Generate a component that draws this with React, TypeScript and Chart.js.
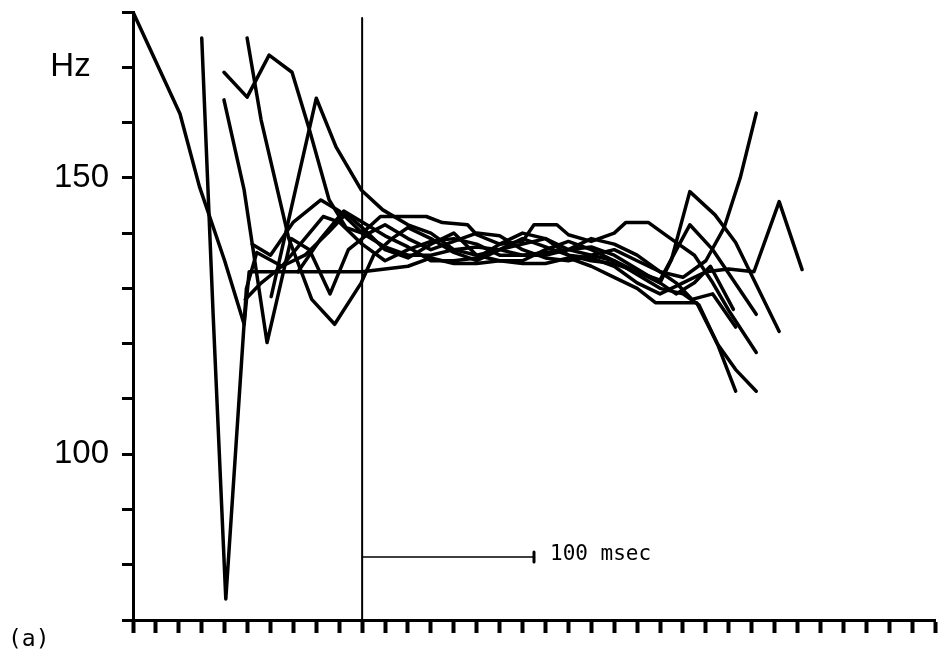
import React, { useEffect, useRef } from "react";
import { Chart, registerables } from "chart.js";

Chart.register(...registerables);

// x: time in tick units (0..35), y: Hz
const xTicks = { min: 0, max: 35, step: 1 };
const yTicks = { min: 70, max: 180, step: 10 };
const yLabels: Record<number, string> = { 170: "Hz  ", 150: "150", 100: "100" };

const curve1: [number, number][] = [[0,180],[2.05,161.6],[2.9,148.4],[4,135],[4.85,123.5],[5.07,133],[10,133],[11,133.5],[12,134],[13,135.5],[14,134.5],[15,134.5],[16,135],[17,134.5],[18,134.5],[19,135.5],[20,134],[21,132],[22,130],[22.8,127.4],[23.8,127.4],[24.6,127.4],[25.5,120],[26.3,111.4]];
const curve2: [number, number][] = [[3,175.3],[3.5,125],[4.05,73.8],[4.95,130],[5.4,136.5],[6.5,134],[7.5,136],[8.5,140],[9.3,143.5],[10,141],[11,137],[12,135.5],[13,138],[14,140],[15,136],[16,135],[17,135],[18,137],[19,138.5],[20,137],[21,135],[22,132.5],[23,130],[24,129],[24.7,127],[25.5,120],[26.3,115.3],[27.2,111.4]];
const curve3: [number, number][] = [[3.97,169.1],[4.98,164.6],[5.94,172.2],[6.94,169.1],[7.7,158.7],[8.56,146],[9.3,141],[10,140],[10.8,143],[11.5,143],[12.8,143],[13.5,141.9],[14.6,141.5],[15,139.7],[16,138],[17,138.5],[17.5,141.5],[18.5,141.5],[19,139.7],[20,138.5],[21,140],[21.5,141.9],[22.5,141.9],[23.3,139.5],[24.5,136],[25.3,131],[26,126],[27.2,118.4]];
const curve4: [number, number][] = [[4.98,175.3],[5.59,160.5],[6.8,139],[7.8,128],[8.8,123.5],[9.96,131],[10.5,136],[11.3,139],[12,141],[13,139],[14,136.5],[15,135],[16,137],[17,139],[18,137.5],[19,136],[20,135],[21,134.5],[22,133],[23,131],[23.7,129],[24.5,131],[25.2,134],[26.2,126.2]];
const curve5: [number, number][] = [[3.97,164.1],[4.85,147.8],[5.85,120.2],[6.9,139],[7.7,137],[8.6,129],[9.4,137],[10.3,140],[11,141.5],[12,139],[13,137],[14,138.5],[15,140],[16,139.5],[17,137],[18,135.5],[19,135],[20,136],[21,137],[22,135],[23,133],[23.7,131],[24.4,128],[25.3,129],[26.3,123]];
const curve6: [number, number][] = [[6.03,128.5],[8,164.4],[8.86,155.6],[9.96,147.8],[10.9,144.2],[12,141.5],[13,140],[14,137],[15,136],[16,137],[17,138],[18,139],[19,137],[20,136],[21,135],[22,133],[23,131.5],[24.3,141.5],[25.3,137],[27.2,125.3]];
const curve7: [number, number][] = [[5.2,138],[6,136],[7,142],[8.2,146],[9,144],[10,140],[11,137.5],[12,136],[13,136],[14,137],[15,137.5],[16,137],[17,136],[18,136],[19,137],[20,139],[21,138],[22,136],[23,133],[24,132],[25,135],[25.8,141],[26.5,150],[27.2,161.7]];
const curve8: [number, number][] = [[4.9,128],[5.6,131],[6.5,134],[7.5,139],[8.3,143],[9,142],[10,138],[11,135],[12,137],[13,138.5],[14,139],[15,138],[16,136],[17,136],[18,136.5],[19,137],[20,137.5],[21,136],[22,133.5],[23,131],[23.5,135.2],[24.3,147.5],[25.4,143.3],[26.3,138.3],[28.2,122.2]];
const curve9: [number, number][] = [[7.2,133],[8.2,139],[9.2,144],[10,142],[11,139.5],[12,137.5],[13,135],[14,135],[15,135.5],[16,138],[17,140],[18,139],[19,136],[20,135.5],[21,134],[22,131],[23,129],[24,131],[25,133],[26,133.5],[27.1,133],[28.2,145.7],[29.2,133.4]];

const markerLine: [number, number][] = [[10,178.9],[10,70]];
const scaleBar: [number, number][] = [[10,81.4],[17.5,81.4]];
const scaleBarEnd: [number, number][] = [[17.5,80.5],[17.5,82.3]];
const scaleBarLabel = "100 msec";
const panelLabel = "(a)";

const curves = [curve1, curve2, curve3, curve4, curve5, curve6, curve7, curve8, curve9];

const toPts = (a: [number, number][]) => a.map(([x, y]) => ({ x, y }));

export default function App() {
  const ref = useRef<HTMLCanvasElement>(null);
  useEffect(() => {
    if (!ref.current) return;
    const lineDs = (d: [number, number][], w: number) => ({
      data: toPts(d),
      borderColor: "#000",
      backgroundColor: "#000",
      borderWidth: w,
      pointRadius: 0,
      fill: false,
      tension: 0,
      borderJoinStyle: "round" as const,
      borderCapStyle: "round" as const,
    });
    const textPlugin = {
      id: "texts",
      afterDraw(chart: any) {
        const ctx = chart.ctx;
        const xs = chart.scales.x;
        const ys = chart.scales.y;
        ctx.save();
        ctx.fillStyle = "#000";
        ctx.font = '21px "DejaVu Sans Mono"';
        ctx.textBaseline = "middle";
        ctx.textAlign = "left";
        ctx.fillText(scaleBarLabel, xs.getPixelForValue(scaleBar[1][0]) + 16, ys.getPixelForValue(scaleBar[1][1]) - 2);
        ctx.font = '23px "DejaVu Sans Mono"';
        ctx.fillText(panelLabel, 8, 640);
        ctx.restore();
      },
    };
    const chart = new Chart(ref.current, {
      type: "line",
      data: {
        datasets: [
          ...curves.map((c) => lineDs(c, 3.5)),
          lineDs(markerLine, 2),
          lineDs(scaleBar, 1.5),
          lineDs(scaleBarEnd, 3),
        ],
      },
      options: {
        responsive: false,
        animation: false,
        devicePixelRatio: 1,
        layout: { padding: { top: 12, right: 6, left: 0, bottom: 0 } },
        plugins: { legend: { display: false }, tooltip: { enabled: false } },
        scales: {
          x: {
            type: "linear",
            min: xTicks.min,
            max: xTicks.max,
            ticks: { stepSize: xTicks.step, callback: () => "", font: { size: 1 } },
            grid: { drawOnChartArea: false, tickLength: 13, tickWidth: 4, tickColor: "#000", color: "#000" },
            border: { display: true, width: 3, color: "#000" },
            afterFit: (s: any) => {
              s.height = 38;
              s.paddingLeft = 0;
              s.paddingRight = 0;
            },
          },
          y: {
            type: "linear",
            min: yTicks.min,
            max: yTicks.max,
            ticks: {
              stepSize: yTicks.step,
              callback: (v: any) => yLabels[Number(v)] ?? "",
              color: "#000",
              padding: 13,
              font: { family: '"Liberation Sans", Arial, sans-serif', size: 33 },
            },
            grid: { drawOnChartArea: false, tickLength: 11, tickWidth: 3, tickColor: "#000", color: "#000" },
            border: { display: true, width: 3, color: "#000" },
            afterFit: (s: any) => {
              s.width = 133;
              s.paddingTop = 0;
              s.paddingBottom = 0;
            },
          },
        },
      },
      plugins: [textPlugin],
    });
    return () => chart.destroy();
  }, []);
  return (
    <div style={{ position: "absolute", left: 0, top: 0, width: 941, height: 658, background: "#fff" }}>
      <canvas ref={ref} width={941} height={658} style={{ display: "block" }} />
    </div>
  );
}
